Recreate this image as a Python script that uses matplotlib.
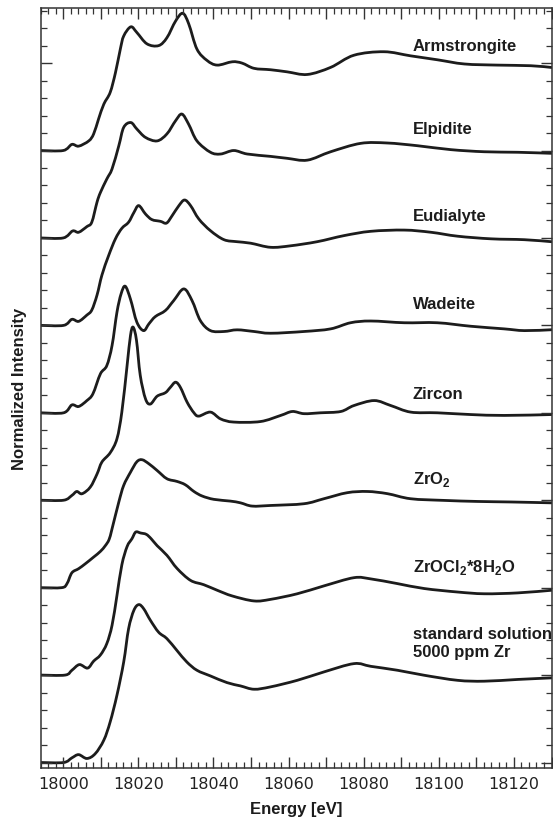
import matplotlib
matplotlib.use("Agg")
import matplotlib.pyplot as plt
import numpy as np
from matplotlib.path import Path
from matplotlib.patches import PathPatch
from matplotlib.ticker import MultipleLocator, FuncFormatter

# Zr K-edge XANES, normalized, stacked by 1 unit each

e_arm = [17994, 18000, 18002.3, 18004.1, 18006.8, 18008.1, 18009.4, 18010.8, 18012.5, 18013.9,
         18015.2, 18016.1, 18018.0, 18019.6, 18022.3, 18025.4, 18027.6, 18029.9, 18031.8, 18033.4,
         18035.6, 18038.3, 18041.0, 18045.0, 18047.6, 18050.8, 18055.2, 18059.6, 18065.0, 18071.2,
         18077.4, 18085.4, 18092.5, 18099.6, 18106.8, 18115.6, 18124.5, 18130]
i_arm = [0, 0, 0.07, 0.05, 0.11, 0.19, 0.36, 0.53, 0.665, 0.89,
         1.16, 1.31, 1.415, 1.35, 1.22, 1.20, 1.29, 1.48, 1.57, 1.45,
         1.16, 1.03, 0.977, 1.015, 1.0, 0.94, 0.924, 0.90, 0.87, 0.951,
         1.09, 1.13, 1.083, 1.038, 0.99, 0.977, 0.97, 0.95]

e_elp = [17994, 18000, 18002.5, 18004.1, 18006.3, 18007.6, 18009.0, 18009.9, 18011.6, 18013.0,
         18014.8, 18016.1, 18018.0, 18019.6, 18021.9, 18025.0, 18027.6, 18029.9, 18031.6, 18033.4,
         18035.6, 18039.2, 18041.9, 18045.4, 18049.0, 18055.2, 18059.6, 18065.0, 18071.2, 18079.2,
         18086.3, 18094.3, 18103.2, 18112.1, 18121.0, 18130]
i_elp = [0, 0, 0.08, 0.065, 0.13, 0.18, 0.41, 0.52, 0.674, 0.79,
         1.055, 1.265, 1.32, 1.246, 1.15, 1.11, 1.19, 1.34, 1.417, 1.30,
         1.11, 0.98, 0.96, 1.0, 0.96, 0.933, 0.911, 0.89, 0.986, 1.082,
         1.086, 1.055, 1.01, 0.986, 0.98, 0.968]

e_eud = [17994, 18000.1, 18002.3, 18004.1, 18006.3, 18007.6, 18009.0, 18010.3, 18012.1, 18013.9,
         18015.6, 18017.4, 18018.8, 18020.1, 18021.9, 18023.6, 18025.9, 18027.5, 18029.0, 18030.8,
         18032.3, 18033.9, 18036.1, 18039.2, 18042.8, 18046.3, 18049.9, 18055.2, 18060.5, 18067.6,
         18074.8, 18081.9, 18090.8, 18097.9, 18105.0, 18113.9, 18122.8, 18130]
i_eud = [0, 0, 0.069, 0.046, 0.118, 0.175, 0.347, 0.575, 0.80, 0.99,
         1.11, 1.18, 1.29, 1.37, 1.274, 1.21, 1.19, 1.17, 1.255, 1.37,
         1.434, 1.37, 1.217, 1.083, 0.98, 0.957, 0.94, 0.893, 0.91, 0.957,
         1.027, 1.076, 1.09, 1.065, 1.02, 0.99, 0.98, 0.957]

e_wad = [17994, 18000.1, 18002.3, 18004.1, 18006.3, 18007.9, 18009.9, 18011.6, 18013.0, 18014.3,
         18015.4, 18016.5, 18017.9, 18019.6, 18021.4, 18022.8, 18024.5, 18027.2, 18029.4, 18032.1,
         18034.3, 18036.5, 18039.2, 18042.8, 18046.3, 18050.8, 18055.2, 18064.1, 18071.2, 18076.5,
         18081.9, 18090.8, 18099.6, 18108.5, 18117.4, 18122.8, 18130]
i_wad = [0, 0, 0.09, 0.072, 0.14, 0.217, 0.446, 0.54, 0.77, 1.15,
         1.36, 1.448, 1.30, 1.037, 0.94, 1.017, 1.10, 1.17, 1.283, 1.417,
         1.283, 1.055, 0.94, 0.93, 0.949, 0.93, 0.91, 0.93, 0.96, 1.03,
         1.05, 1.03, 1.03, 0.99, 0.96, 0.94, 0.95]

e_zir = [17994, 18000.1, 18002.3, 18003.6, 18005.0, 18007.2, 18009.0, 18010.3, 18012.5, 18014.3,
         18015.6, 18017.0, 18017.9, 18018.6, 18019.5, 18020.5, 18021.9, 18023.2, 18025.0, 18027.2,
         18028.5, 18029.9, 18031.2, 18033.0, 18034.8, 18036.1, 18039.2, 18041.9, 18045.4, 18052.5,
         18057.9, 18061.0, 18064.1, 18068.5, 18073.9, 18077.4, 18082.8, 18087.2, 18092.5, 18099.6,
         18108.5, 18117.4, 18130]
i_zir = [0, 0, 0.055, 0.10, 0.074, 0.15, 0.30, 0.437, 0.543, 0.703,
         1.008, 1.54, 1.883, 1.98, 1.83, 1.43, 1.16, 1.10, 1.19, 1.23,
         1.29, 1.35, 1.29, 1.12, 1.0, 0.962, 1.008, 0.93, 0.894, 0.90,
         0.97, 1.015, 0.99, 1.0, 1.015, 1.083, 1.14, 1.083, 1.008, 1.0,
         0.98, 0.97, 0.98]

e_zro2 = [17994, 17999.6, 18001.0, 18002.3, 18004.1, 18005.9, 18008.1, 18009.9, 18011.2, 18012.2,
          18013.0, 18014.8, 18016.1, 18017.9, 18019.6, 18021.0, 18022.8, 18025.0, 18027.6, 18030.3,
          18032.5, 18034.8, 18037.0, 18040.1, 18044.5, 18047.2, 18050.3, 18055.2, 18064.1, 18069.4,
          18075.6, 18081.0, 18086.3, 18092.5, 18101.4, 18110.3, 18119.2, 18130]
i_zro2 = [0, 0, 0.046, 0.17, 0.217, 0.274, 0.35, 0.415, 0.48, 0.55,
          0.674, 0.98, 1.17, 1.32, 1.44, 1.463, 1.417, 1.34, 1.246, 1.215,
          1.177, 1.10, 1.048, 1.01, 0.99, 0.97, 0.933, 0.94, 0.96, 1.017,
          1.086, 1.10, 1.075, 1.017, 0.998, 0.986, 0.98, 0.97]

e_zrocl = [17994, 18000.5, 18002.3, 18004.3, 18006.5, 18008.1, 18009.9, 18011.6, 18013.0, 18014.3,
           18015.6, 18017.0, 18018.3, 18019.3, 18020.6, 18022.1, 18023.4, 18025.0, 18027.6, 18030.3,
           18033.9, 18037.4, 18041.0, 18045.0, 18050.8, 18055.2, 18062.3, 18069.4, 18077.4, 18081.9,
           18089.0, 18096.1, 18105.0, 18112.1, 18121.0, 18130]
i_zrocl = [0, 0, 0.055, 0.12, 0.08, 0.16, 0.23, 0.36, 0.57, 0.91,
           1.26, 1.47, 1.56, 1.636, 1.625, 1.61, 1.56, 1.48, 1.37, 1.22,
           1.083, 1.034, 0.97, 0.905, 0.848, 0.866, 0.93, 1.02, 1.114, 1.10,
           1.046, 0.99, 0.95, 0.93, 0.94, 0.97]

e_std = [17994, 18000.1, 18002.3, 18004.1, 18006.3, 18008.5, 18010.8, 18012.5, 18014.3, 18016.1,
         18017.4, 18018.8, 18020.1, 18021.4, 18023.2, 18025.4, 18027.6, 18030.3, 18032.9, 18035.6,
         18039.2, 18043.6, 18047.2, 18050.8, 18055.2, 18062.3, 18069.4, 18077.4, 18081.9, 18089.0,
         18096.1, 18105.0, 18112.1, 18121.0, 18130]
i_std = [0, 0, 0.053, 0.09, 0.046, 0.10, 0.255, 0.465, 0.77, 1.15,
         1.53, 1.74, 1.806, 1.76, 1.627, 1.49, 1.417, 1.28, 1.15, 1.055,
         0.99, 0.914, 0.876, 0.838, 0.865, 0.94, 1.036, 1.131, 1.10, 1.055,
         0.998, 0.94, 0.93, 0.95, 0.968]

energies = [e_arm, e_elp, e_eud, e_wad, e_zir, e_zro2, e_zrocl, e_std]
intensities = [i_arm, i_elp, i_eud, i_wad, i_zir, i_zro2, i_zrocl, i_std]
offsets = [7, 6, 5, 4, 3, 2, 1, 0]
names = ["Armstrongite", "Elpidite", "Eudialyte", "Wadeite", "Zircon",
         "ZrO$_\\mathregular{2}$", "ZrOCl$_\\mathregular{2}$*8H$_\\mathregular{2}$O",
         "standard solution\n5000 ppm Zr"]
label_y = [8.2, 7.25, 6.26, 5.25, 4.22, 3.25, 2.24, 1.37]


def smooth_path(x, y):
    # draw the read points as a smooth curve (Catmull-Rom -> cubic bezier)
    p = np.column_stack([x, y]).astype(float)
    n = len(p)
    verts = [p[0]]
    codes = [Path.MOVETO]
    for k in range(n - 1):
        a = p[k - 1] if k > 0 else p[k]
        d = p[k + 2] if k + 2 < n else p[k + 1]
        verts += [p[k] + (p[k + 1] - a) / 6, p[k + 1] - (d - p[k]) / 6, p[k + 1]]
        codes += [Path.CURVE4] * 3
    return Path(verts, codes)


fig = plt.figure(figsize=(5.53, 8.2), dpi=100)
ax = fig.add_axes([0.0736, 0.0625, 0.9237, 0.9265])

lc = "#1c1c1c"
for e, i, off in zip(energies, intensities, offsets):
    path = smooth_path(e, [v + off for v in i])
    ax.add_patch(PathPatch(path, fill=False, ec=lc, lw=2.0, joinstyle="round", capstyle="round"))

bold = dict(family="Liberation Sans", weight="bold", size=12, color="#1c1c1c")
for name, yy in zip(names, label_y):
    ax.text(18093, yy, name, ha="left", va="center", linespacing=1.25, **bold)

ax.set_xlim(17994, 18130)
ax.set_ylim(-0.06, 8.63)

ax.xaxis.set_major_locator(MultipleLocator(10))
ax.xaxis.set_minor_locator(MultipleLocator(2))
ax.xaxis.set_major_formatter(FuncFormatter(lambda v, p: "%d" % v if round(v) % 20 == 0 else ""))
ax.yaxis.set_major_locator(MultipleLocator(1))
ax.yaxis.set_minor_locator(MultipleLocator(0.2))

ax.tick_params(which="both", direction="in", top=True, right=True, color="#333333")
ax.tick_params(which="major", length=8, width=1.0, pad=6)
ax.tick_params(which="minor", length=4, width=0.9)
ax.tick_params(axis="y", which="both", labelleft=False)
for lab in ax.get_xticklabels():
    lab.set_family("DejaVu Sans")
    lab.set_fontsize(11.5)
    lab.set_color("#222222")

for s in ax.spines.values():
    s.set_linewidth(1.1)
    s.set_color("#333333")

ax.set_xlabel("Energy [eV]", labelpad=7, **bold)
ax.set_ylabel("Normalized Intensity", labelpad=10, **bold)

fig.savefig("out.png", dpi=100)
